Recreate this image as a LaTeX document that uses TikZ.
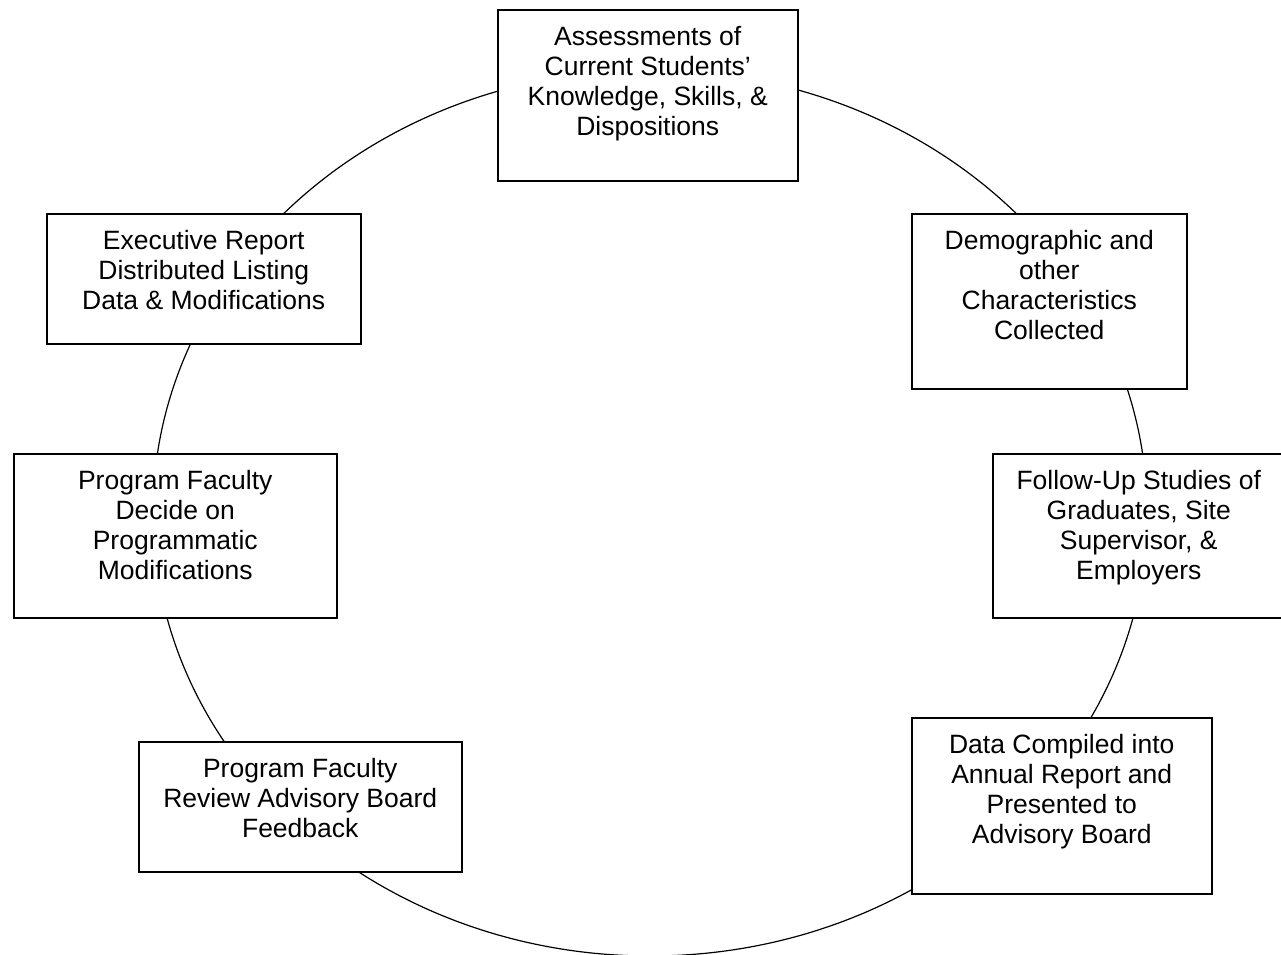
\documentclass[tikz,border=0pt]{standalone}
\usepackage{fontspec}
\setmainfont{Liberation Sans}
\usetikzlibrary{positioning}

\begin{document}
\begin{tikzpicture}[
    x=1pt, y=-1pt,
    box/.style={rectangle, draw, fill=white, line width=1.5pt, anchor=north west, inner sep=0pt},
    txt/.style={anchor=north, align=center, inner sep=0pt, font=\fontsize{26.5}{30}\selectfont},
    ring/.style={line width=1.2pt}
]
\useasboundingbox (0,0) rectangle (1281,954);

% the cycle behind the boxes
\coordinate (mid) at (650,513);
\draw[ring] (mid) ellipse [x radius=497pt, y radius=443pt];

% boxes
\node[box, minimum width=300pt, minimum height=171pt] (assess) at (497,9) {};
\node[box, minimum width=275pt, minimum height=175pt] (demo) at (911,213) {};
\node[box, minimum width=292pt, minimum height=164pt] (follow) at (992,453) {};
\node[box, minimum width=300pt, minimum height=176pt] (annual) at (911,717) {};
\node[box, minimum width=323pt, minimum height=130pt] (review) at (138,741) {};
\node[box, minimum width=323pt, minimum height=164pt] (decide) at (13,453) {};
\node[box, minimum width=314pt, minimum height=130pt] (exec) at (46,213) {};

% texts
\node[txt, below=17pt of assess.north] (assess-t) {Assessments of\\Current Students’\\Knowledge, Skills, \&\\Dispositions};
\node[txt, below=17pt of demo.north] (demo-t) {Demographic and\\other\\Characteristics\\Collected};
\node[txt, below=17pt of follow.north] (follow-t) {Follow-Up Studies of\\Graduates, Site\\Supervisor, \&\\Employers};
\node[txt, below=17pt of annual.north] (annual-t) {Data Compiled into\\Annual Report and\\Presented to\\Advisory Board};
\node[txt, below=17pt of review.north] (review-t) {Program Faculty\\Review Advisory Board\\Feedback};
\node[txt, below=17pt of decide.north] (decide-t) {Program Faculty\\Decide on\\Programmatic\\Modifications};
\node[txt, below=17pt of exec.north] (exec-t) {Executive Report\\Distributed Listing\\Data \& Modifications};
\end{tikzpicture}
\end{document}
